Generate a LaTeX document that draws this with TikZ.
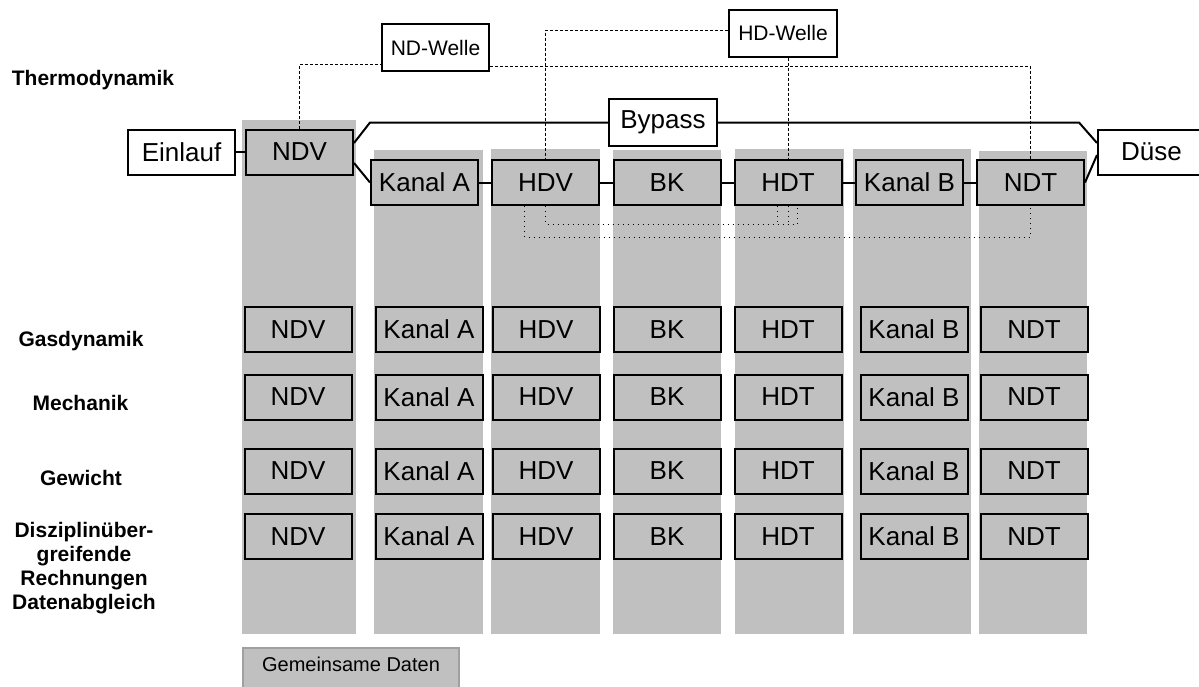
\documentclass[tikz,border=0pt]{standalone}
\usepackage{fontspec}
\setmainfont{Liberation Sans}
\usetikzlibrary{calc, positioning}
\definecolor{columngray}{RGB}{192, 192, 192}
\definecolor{legendgray}{RGB}{160, 160, 160}

\begin{document}
\begin{tikzpicture}[x=0.5pt, y=-0.5pt,
  modul/.style={draw=black, line width=1pt, fill=columngray, minimum width=53.5pt, minimum height=22.5pt, inner sep=0pt, font=\fontsize{13}{15}\selectfont},
  randmodul/.style={modul, fill=white},
  welle/.style={draw=black, line width=1pt, fill=white, minimum width=53.5pt, minimum height=23.5pt, inner sep=0pt, font=\fontsize{10.5}{12}\selectfont},
  disziplin/.style={font=\fontsize{10.5}{12}\selectfont\bfseries, align=center},
  fluss/.style={line width=1pt},
  wellenlinie/.style={line width=0.5pt, dash pattern=on 1.5pt off 1pt},
  datenlinie/.style={line width=0.5pt, dotted}
]
  \useasboundingbox (0,0) rectangle (1199,686);

  % Spalten
  \foreach \xl/\xr/\yt in {242/356/120, 374/483/150, 491/600/149, 613/721/150, 735/844/149, 853/971/149, 979/1087/151}
    \fill[columngray] (\xl,\yt) rectangle (\xr,634);

  % Disziplinen
  \node[disziplin] (thermo) at (93,80) {Thermodynamik};
  \node[disziplin] (gas) at (81,341) {Gasdynamik};
  \node[disziplin] (mech) at (80.5,403) {Mechanik};
  \node[disziplin] (gew) at (81,478) {Gewicht};
  \node[disziplin] (ueber) at (84,568) {Disziplinüber-\\greifende\\Rechnungen\\Datenabgleich};

  % Thermodynamik
  \node[randmodul] (einlauf) at (181.5,152) {Einlauf};
  \node[modul] (ndv1) at (299.5,152) {NDV};
  \node[modul] (kanala1) at (424.5,182.5) {Kanal A};
  \node[modul] (hdv1) at (545.5,182.5) {HDV};
  \node[modul] (bk1) at (667,182.5) {BK};
  \node[modul] (hdt1) at (788,182.5) {HDT};
  \node[modul] (kanalb1) at (909.5,182.5) {Kanal B};
  \node[modul] (ndt1) at (1030.5,182.5) {NDT};
  \node[randmodul] (duese) at (1151.5,152) {Düse};
  \node[randmodul, minimum width=54pt, minimum height=23.5pt] (bypass) at (663,122.5) {Bypass};
  \node[welle] (ndw) at (435.5,47.5) {ND-Welle};
  \node[welle, minimum width=54pt] (hdw) at (783,33) {HD-Welle};

  \draw[fluss] (einlauf) -- (ndv1);
  \draw[fluss] ([yshift=4.5pt]ndv1.east) -- (kanala1.west |- bypass.west) -- (bypass.west);
  \draw[fluss] ([yshift=-5.5pt]ndv1.east) -- (kanala1.west);
  \draw[fluss] (kanala1) -- (hdv1) -- (bk1) -- (hdt1) -- (kanalb1) -- (ndt1);
  \draw[fluss] (bypass.east) -- ([xshift=-3pt]ndt1.east |- bypass.east) -- ([yshift=4.5pt]duese.west);
  \draw[fluss] (ndt1.east) -- ([yshift=-1.5pt]duese.west);

  \draw[wellenlinie] (ndv1.north) |- ([yshift=4pt]ndw.south west);
  \draw[wellenlinie] ([yshift=3pt]ndw.south east) -| (ndt1.north);
  \draw[wellenlinie] ([yshift=1.5pt]hdw.west) -| (hdv1.north);
  \draw[wellenlinie] (hdw.south -| hdt1.north) -- (hdt1.north);

  \draw[datenlinie] (hdv1.south) -- ++(0,18) -| ([xshift=4.5pt]hdt1.south);
  \draw[datenlinie] ([xshift=-10.5pt]hdv1.south) -- ++(0,31) -| (ndt1.south);
  \draw[datenlinie] (hdt1.south) -- ++(0,16);
  \draw[datenlinie] ([xshift=-5.5pt]hdt1.south) -- ++(0,16);

  % weitere Disziplinen
  \foreach \y/\r in {329.5/2, 397/3, 471/4, 536.5/5} {
    \node[modul] (ndv\r) at (298,\y) {NDV};
    \node[modul] (kanala\r) at (429,\y) {Kanal A};
    \node[modul] (hdv\r) at (546,\y) {HDV};
    \node[modul] (bk\r) at (667,\y) {BK};
    \node[modul] (hdt\r) at (788,\y) {HDT};
    \node[modul] (kanalb\r) at (914,\y) {Kanal B};
    \node[modul] (ndt\r) at (1034,\y) {NDT};
  }

  \node[draw=legendgray, line width=1pt, fill=columngray, minimum width=108pt, inner ysep=0pt, text height=11.5pt, text depth=10.5pt, anchor=north, font=\fontsize{10}{12}\selectfont] (daten) at (351,647) {Gemeinsame Daten};
\end{tikzpicture}
\end{document}
